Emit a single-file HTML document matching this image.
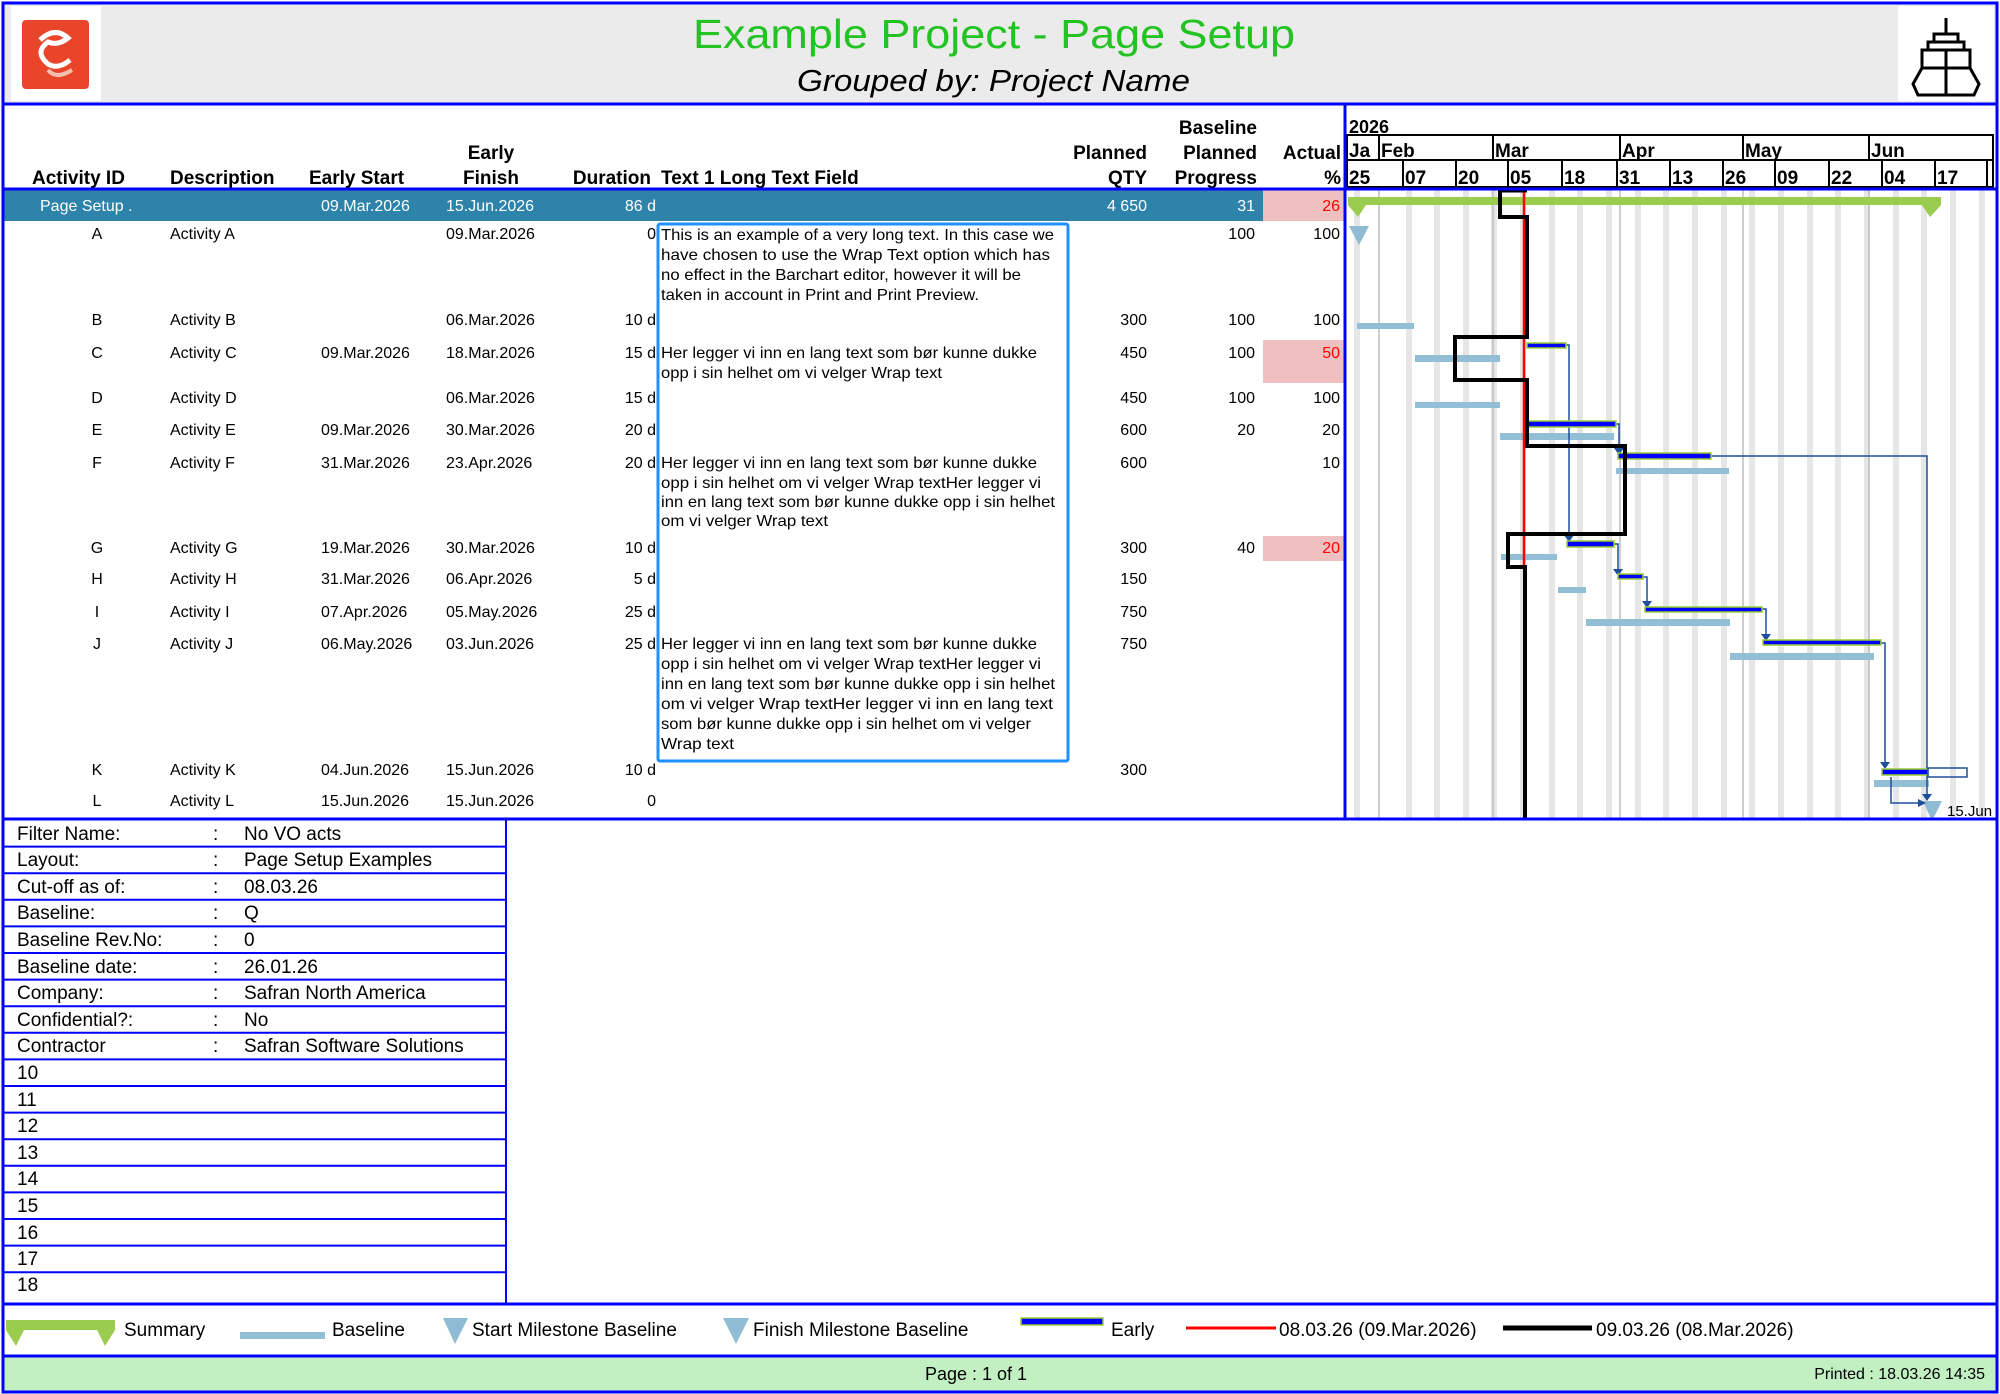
<!DOCTYPE html>
<html><head><meta charset="utf-8"><style>
html,body{margin:0;padding:0;background:#fff}
svg{display:block}
text{font-family:"Liberation Sans",Arial,sans-serif}
.h{font-weight:bold;font-size:19px}
.d{font-size:16px}
.t{font-size:16px}
.b{font-size:19px}
</style></head><body>
<svg width="2000" height="1394" viewBox="0 0 2000 1394" xmlns="http://www.w3.org/2000/svg">
<rect x="0" y="0" width="2000" height="1394" fill="#fff"/>
<rect x="4" y="4" width="1992" height="99" fill="#ebebeb"/>
<rect x="11" y="6" width="90" height="95" fill="#fff"/>
<rect x="22" y="20" width="67" height="69" rx="4" fill="#e8452a"/>
<path d="M40 40 q15 -14 28 -2 q-10 8 -20 4 q-14 10 0 22 q10 6 22 -4" fill="none" stroke="#fff" stroke-width="5"/>
<path d="M48 70 q8 10 24 0" fill="none" stroke="#f3c0b0" stroke-width="4"/>
<rect x="1898" y="6" width="96" height="95" fill="#fff"/>
<g fill="none" stroke="#000" stroke-width="3">
<line x1="1946" y1="18" x2="1946" y2="34"/>
<rect x="1934" y="34" width="24" height="8"/>
<rect x="1928" y="42" width="36" height="8"/>
<rect x="1922" y="50" width="48" height="18"/>
<path d="M1922 68 L1913 84 L1918 95 L1974 95 L1979 84 L1970 68"/>
<line x1="1946" y1="50" x2="1946" y2="95"/>
</g>
<text x="693" y="48" textLength="602" lengthAdjust="spacingAndGlyphs" font-size="41" fill="#22c322">Example Project - Page Setup</text>
<text x="797" y="91" textLength="393" lengthAdjust="spacingAndGlyphs" font-size="31" font-style="italic" fill="#000">Grouped by: Project Name</text>

<text class="h" x="32" y="184">Activity ID</text>
<text class="h" x="170" y="184">Description</text>
<text class="h" x="309" y="184">Early Start</text>
<text class="h" x="491" y="159" text-anchor="middle">Early</text>
<text class="h" x="491" y="184" text-anchor="middle">Finish</text>
<text class="h" x="651" y="184" text-anchor="end">Duration</text>
<text class="h" x="661" y="184">Text 1 Long Text Field</text>
<text class="h" x="1147" y="159" text-anchor="end">Planned</text>
<text class="h" x="1147" y="184" text-anchor="end">QTY</text>
<text class="h" x="1257" y="134" text-anchor="end">Baseline</text>
<text class="h" x="1257" y="159" text-anchor="end">Planned</text>
<text class="h" x="1257" y="184" text-anchor="end">Progress</text>
<text class="h" x="1341" y="159" text-anchor="end">Actual</text>
<text class="h" x="1341" y="184" text-anchor="end">%</text>

<text x="1349" y="133" font-size="18" font-weight="bold">2026</text>
<g fill="none" stroke="#000" stroke-width="2">
<rect x="1347" y="135" width="646" height="25"/>
<rect x="1347" y="160" width="646" height="27"/>
<line x1="1379" y1="135" x2="1379" y2="160"/><line x1="1493" y1="135" x2="1493" y2="160"/><line x1="1620" y1="135" x2="1620" y2="160"/><line x1="1743" y1="135" x2="1743" y2="160"/><line x1="1869" y1="135" x2="1869" y2="160"/>
<line x1="1403" y1="160" x2="1403" y2="187"/><line x1="1456" y1="160" x2="1456" y2="187"/><line x1="1508" y1="160" x2="1508" y2="187"/><line x1="1562" y1="160" x2="1562" y2="187"/><line x1="1617" y1="160" x2="1617" y2="187"/><line x1="1670" y1="160" x2="1670" y2="187"/><line x1="1723" y1="160" x2="1723" y2="187"/><line x1="1775" y1="160" x2="1775" y2="187"/><line x1="1829" y1="160" x2="1829" y2="187"/><line x1="1882" y1="160" x2="1882" y2="187"/><line x1="1935" y1="160" x2="1935" y2="187"/><line x1="1987" y1="160" x2="1987" y2="187"/>
</g>
<g font-size="19" font-weight="bold">
<text x="1349" y="157">Ja</text><text x="1381" y="157">Feb</text><text x="1495" y="157">Mar</text><text x="1622" y="157">Apr</text><text x="1745" y="157">May</text><text x="1871" y="157">Jun</text>
<text x="1349" y="184">25</text><text x="1405" y="184">07</text><text x="1458" y="184">20</text><text x="1510" y="184">05</text><text x="1564" y="184">18</text><text x="1619" y="184">31</text><text x="1672" y="184">13</text><text x="1725" y="184">26</text><text x="1777" y="184">09</text><text x="1831" y="184">22</text><text x="1884" y="184">04</text><text x="1937" y="184">17</text>
</g>

<g fill="#e6e6e6">
<rect x="1354" y="190" width="6" height="629"/><rect x="1406" y="190" width="6" height="629"/><rect x="1434" y="190" width="6" height="629"/><rect x="1463" y="190" width="6" height="629"/><rect x="1491" y="190" width="6" height="629"/><rect x="1520" y="190" width="6" height="629"/><rect x="1549" y="190" width="6" height="629"/><rect x="1577" y="190" width="6" height="629"/><rect x="1606" y="190" width="6" height="629"/><rect x="1635" y="190" width="6" height="629"/><rect x="1663" y="190" width="6" height="629"/><rect x="1692" y="190" width="6" height="629"/><rect x="1721" y="190" width="6" height="629"/><rect x="1749" y="190" width="6" height="629"/><rect x="1778" y="190" width="6" height="629"/><rect x="1807" y="190" width="6" height="629"/><rect x="1835" y="190" width="6" height="629"/><rect x="1864" y="190" width="6" height="629"/><rect x="1893" y="190" width="6" height="629"/><rect x="1921" y="190" width="6" height="629"/><rect x="1950" y="190" width="6" height="629"/><rect x="1979" y="190" width="6" height="629"/>
</g>
<g stroke="#bdbdbd" stroke-width="1.5">
<line x1="1379" y1="190" x2="1379" y2="819"/><line x1="1493" y1="190" x2="1493" y2="819"/><line x1="1620" y1="190" x2="1620" y2="819"/><line x1="1743" y1="190" x2="1743" y2="819"/><line x1="1869" y1="190" x2="1869" y2="819"/>
</g>

<rect x="4" y="190" width="1259" height="31" fill="#2e83ab"/>
<rect x="1263" y="190" width="82" height="31" fill="#f0c0c0"/>
<g class="d" fill="#fff">
<text x="40" y="211">Page Setup .</text>
<text x="321" y="211">09.Mar.2026</text>
<text x="446" y="211">15.Jun.2026</text>
<text x="656" y="211" text-anchor="end">86 d</text>
<text x="1147" y="211" text-anchor="end">4 650</text>
<text x="1255" y="211" text-anchor="end">31</text>
</g>
<text class="d" x="1340" y="211" text-anchor="end" fill="#f00">26</text>

<rect x="1263" y="340" width="82" height="43" fill="#f0c0c0"/>
<rect x="1263" y="536" width="82" height="25" fill="#f0c0c0"/>

<g class="d" fill="#000">
<text x="97" y="239" text-anchor="middle">A</text><text x="170" y="239">Activity A</text><text x="446" y="239">09.Mar.2026</text><text x="656" y="239" text-anchor="end">0</text><text x="1255" y="239" text-anchor="end">100</text><text x="1340" y="239" text-anchor="end">100</text>
<text x="97" y="325" text-anchor="middle">B</text><text x="170" y="325">Activity B</text><text x="446" y="325">06.Mar.2026</text><text x="656" y="325" text-anchor="end">10 d</text><text x="1147" y="325" text-anchor="end">300</text><text x="1255" y="325" text-anchor="end">100</text><text x="1340" y="325" text-anchor="end">100</text>
<text x="97" y="358" text-anchor="middle">C</text><text x="170" y="358">Activity C</text><text x="321" y="358">09.Mar.2026</text><text x="446" y="358">18.Mar.2026</text><text x="656" y="358" text-anchor="end">15 d</text><text x="1147" y="358" text-anchor="end">450</text><text x="1255" y="358" text-anchor="end">100</text><text x="1340" y="358" text-anchor="end" fill="#f00">50</text>
<text x="97" y="403" text-anchor="middle">D</text><text x="170" y="403">Activity D</text><text x="446" y="403">06.Mar.2026</text><text x="656" y="403" text-anchor="end">15 d</text><text x="1147" y="403" text-anchor="end">450</text><text x="1255" y="403" text-anchor="end">100</text><text x="1340" y="403" text-anchor="end">100</text>
<text x="97" y="435" text-anchor="middle">E</text><text x="170" y="435">Activity E</text><text x="321" y="435">09.Mar.2026</text><text x="446" y="435">30.Mar.2026</text><text x="656" y="435" text-anchor="end">20 d</text><text x="1147" y="435" text-anchor="end">600</text><text x="1255" y="435" text-anchor="end">20</text><text x="1340" y="435" text-anchor="end">20</text>
<text x="97" y="468" text-anchor="middle">F</text><text x="170" y="468">Activity F</text><text x="321" y="468">31.Mar.2026</text><text x="446" y="468">23.Apr.2026</text><text x="656" y="468" text-anchor="end">20 d</text><text x="1147" y="468" text-anchor="end">600</text><text x="1340" y="468" text-anchor="end">10</text>
<text x="97" y="553" text-anchor="middle">G</text><text x="170" y="553">Activity G</text><text x="321" y="553">19.Mar.2026</text><text x="446" y="553">30.Mar.2026</text><text x="656" y="553" text-anchor="end">10 d</text><text x="1147" y="553" text-anchor="end">300</text><text x="1255" y="553" text-anchor="end">40</text><text x="1340" y="553" text-anchor="end" fill="#f00">20</text>
<text x="97" y="584" text-anchor="middle">H</text><text x="170" y="584">Activity H</text><text x="321" y="584">31.Mar.2026</text><text x="446" y="584">06.Apr.2026</text><text x="656" y="584" text-anchor="end">5 d</text><text x="1147" y="584" text-anchor="end">150</text>
<text x="97" y="617" text-anchor="middle">I</text><text x="170" y="617">Activity I</text><text x="321" y="617">07.Apr.2026</text><text x="446" y="617">05.May.2026</text><text x="656" y="617" text-anchor="end">25 d</text><text x="1147" y="617" text-anchor="end">750</text>
<text x="97" y="649" text-anchor="middle">J</text><text x="170" y="649">Activity J</text><text x="321" y="649">06.May.2026</text><text x="446" y="649">03.Jun.2026</text><text x="656" y="649" text-anchor="end">25 d</text><text x="1147" y="649" text-anchor="end">750</text>
<text x="97" y="775" text-anchor="middle">K</text><text x="170" y="775">Activity K</text><text x="321" y="775">04.Jun.2026</text><text x="446" y="775">15.Jun.2026</text><text x="656" y="775" text-anchor="end">10 d</text><text x="1147" y="775" text-anchor="end">300</text>
<text x="97" y="806" text-anchor="middle">L</text><text x="170" y="806">Activity L</text><text x="321" y="806">15.Jun.2026</text><text x="446" y="806">15.Jun.2026</text><text x="656" y="806" text-anchor="end">0</text>
</g>

<g class="t" fill="#000">
<text x="661" y="240" textLength="393" lengthAdjust="spacingAndGlyphs">This is an example of a very long text. In this case we</text>
<text x="661" y="260" textLength="389" lengthAdjust="spacingAndGlyphs">have chosen to use the Wrap Text option which has</text>
<text x="661" y="280" textLength="360" lengthAdjust="spacingAndGlyphs">no effect in the Barchart editor, however it will be</text>
<text x="661" y="300" textLength="318" lengthAdjust="spacingAndGlyphs">taken in account in Print and Print Preview.</text>
<text x="661" y="358" textLength="376" lengthAdjust="spacingAndGlyphs">Her legger vi inn en lang text som bør kunne dukke</text>
<text x="661" y="378" textLength="281" lengthAdjust="spacingAndGlyphs">opp i sin helhet om vi velger Wrap text</text>
<text x="661" y="468" textLength="376" lengthAdjust="spacingAndGlyphs">Her legger vi inn en lang text som bør kunne dukke</text>
<text x="661" y="488" textLength="380" lengthAdjust="spacingAndGlyphs">opp i sin helhet om vi velger Wrap textHer legger vi</text>
<text x="661" y="507" textLength="394" lengthAdjust="spacingAndGlyphs">inn en lang text som bør kunne dukke opp i sin helhet</text>
<text x="661" y="526" textLength="167" lengthAdjust="spacingAndGlyphs">om vi velger Wrap text</text>
<text x="661" y="649" textLength="376" lengthAdjust="spacingAndGlyphs">Her legger vi inn en lang text som bør kunne dukke</text>
<text x="661" y="669" textLength="380" lengthAdjust="spacingAndGlyphs">opp i sin helhet om vi velger Wrap textHer legger vi</text>
<text x="661" y="689" textLength="394" lengthAdjust="spacingAndGlyphs">inn en lang text som bør kunne dukke opp i sin helhet</text>
<text x="661" y="709" textLength="392" lengthAdjust="spacingAndGlyphs">om vi velger Wrap textHer legger vi inn en lang text</text>
<text x="661" y="729" textLength="370" lengthAdjust="spacingAndGlyphs">som bør kunne dukke opp i sin helhet om vi velger</text>
<text x="661" y="749" textLength="73" lengthAdjust="spacingAndGlyphs">Wrap text</text>
</g>
<rect x="658" y="224" width="410" height="537" fill="none" stroke="#1e90ff" stroke-width="3" rx="2"/>

<path d="M1348 197 L1941 197 L1941 205 L1930 217 L1922 205 L1366 205 L1358 217 L1348 205 Z" fill="#9acd4f"/>
<path d="M1349 226 L1369 226 L1359 245 Z" fill="#8fbcd4"/>
<g fill="#93bfd6">
<rect x="1357" y="323" width="57" height="6"/>
<rect x="1415" y="355" width="85" height="7"/>
<rect x="1415" y="402" width="85" height="6"/>
<rect x="1500" y="433" width="114" height="7"/>
<rect x="1616" y="468" width="113" height="6"/>
<rect x="1501" y="554" width="56" height="6"/>
<rect x="1558" y="587" width="28" height="6"/>
<rect x="1586" y="619" width="144" height="7"/>
<rect x="1730" y="653" width="144" height="7"/>
<rect x="1874" y="780" width="55" height="7"/>
</g>
<path d="M1923 801 L1942 801 L1932 821 Z" fill="#8fbcd4"/>
<text x="1947" y="816" font-size="15">15.Jun</text>
<g fill="none" stroke="#1f4e9a" stroke-width="1.5">
<polyline points="1566,345 1569,345 1569,536"/>
<polyline points="1616,424 1619,424 1619,450"/>
<polyline points="1711,456 1927,456 1927,796"/>
<polyline points="1614,544 1618,544 1618,571"/>
<polyline points="1643,577 1647,577 1647,604"/>
<polyline points="1762,609 1766,609 1766,637"/>
<polyline points="1881,643 1885,643 1885,765"/>
<polyline points="1891,777 1891,803 1923,803"/>
</g>
<g fill="#1f4e9a">
<path d="M1564 535 L1574 535 L1569 542 Z"/>
<path d="M1614 448 L1624 448 L1619 455 Z"/>
<path d="M1613 569 L1623 569 L1618 576 Z"/>
<path d="M1642 601 L1652 601 L1647 608 Z"/>
<path d="M1761 634 L1771 634 L1766 641 Z"/>
<path d="M1880 762 L1890 762 L1885 769 Z"/>
<path d="M1922 794 L1932 794 L1927 801 Z"/>
<path d="M1918 799 L1926 803 L1918 807 Z"/>
</g>
<g fill="#0000ff" stroke="#9acd32" stroke-width="1.5">
<rect x="1527" y="343" width="39" height="5"/>
<rect x="1527" y="421" width="89" height="6"/>
<rect x="1618" y="453" width="93" height="6"/>
<rect x="1567" y="541" width="47" height="6"/>
<rect x="1618" y="574" width="25" height="5"/>
<rect x="1645" y="607" width="117" height="5"/>
<rect x="1763" y="640" width="118" height="5"/>
<rect x="1882" y="769" width="46" height="6"/>
</g>
<rect x="1928" y="768" width="39" height="9" fill="none" stroke="#1f4e9a" stroke-width="1.5"/>
<line x1="1524" y1="190" x2="1524" y2="567" stroke="#f00" stroke-width="2.5"/>
<polyline points="1500,190 1500,217 1527,217 1527,337 1455,337 1455,380 1527,380 1527,446 1625,446 1625,534 1508,534 1508,567 1525,567 1525,819" fill="none" stroke="#000" stroke-width="4"/>
<line x1="1500" y1="191" x2="1527" y2="191" stroke="#000" stroke-width="3"/>

<g stroke="#0000ff" stroke-width="2">
<line x1="3" y1="846.6" x2="506" y2="846.6"/><line x1="3" y1="873.2" x2="506" y2="873.2"/><line x1="3" y1="899.8" x2="506" y2="899.8"/><line x1="3" y1="926.4" x2="506" y2="926.4"/><line x1="3" y1="953" x2="506" y2="953"/><line x1="3" y1="979.6" x2="506" y2="979.6"/><line x1="3" y1="1006.2" x2="506" y2="1006.2"/><line x1="3" y1="1032.8" x2="506" y2="1032.8"/><line x1="3" y1="1059.4" x2="506" y2="1059.4"/><line x1="3" y1="1086" x2="506" y2="1086"/><line x1="3" y1="1112.6" x2="506" y2="1112.6"/><line x1="3" y1="1139.2" x2="506" y2="1139.2"/><line x1="3" y1="1165.8" x2="506" y2="1165.8"/><line x1="3" y1="1192.4" x2="506" y2="1192.4"/><line x1="3" y1="1219" x2="506" y2="1219"/><line x1="3" y1="1245.6" x2="506" y2="1245.6"/><line x1="3" y1="1272.2" x2="506" y2="1272.2"/>
<line x1="506" y1="820" x2="506" y2="1303"/>
</g>
<g class="b" fill="#000">
<text x="17" y="840">Filter Name:</text><text x="213" y="840">:</text><text x="244" y="840">No VO acts</text>
<text x="17" y="866">Layout:</text><text x="213" y="866">:</text><text x="244" y="866">Page Setup Examples</text>
<text x="17" y="893">Cut-off as of:</text><text x="213" y="893">:</text><text x="244" y="893">08.03.26</text>
<text x="17" y="919">Baseline:</text><text x="213" y="919">:</text><text x="244" y="919">Q</text>
<text x="17" y="946">Baseline Rev.No:</text><text x="213" y="946">:</text><text x="244" y="946">0</text>
<text x="17" y="973">Baseline date:</text><text x="213" y="973">:</text><text x="244" y="973">26.01.26</text>
<text x="17" y="999">Company:</text><text x="213" y="999">:</text><text x="244" y="999">Safran North America</text>
<text x="17" y="1026">Confidential?:</text><text x="213" y="1026">:</text><text x="244" y="1026">No</text>
<text x="17" y="1052">Contractor</text><text x="213" y="1052">:</text><text x="244" y="1052">Safran Software Solutions</text>
<text x="17" y="1079">10</text><text x="17" y="1106">11</text><text x="17" y="1132">12</text><text x="17" y="1159">13</text><text x="17" y="1185">14</text><text x="17" y="1212">15</text><text x="17" y="1239">16</text><text x="17" y="1265">17</text><text x="17" y="1291">18</text>
</g>

<path d="M6 1320 L115 1320 L115 1330 L105 1346 L97 1330 L24 1330 L16 1346 L6 1330 Z" fill="#9acd4f"/>
<text class="b" x="124" y="1336">Summary</text>
<rect x="240" y="1332" width="85" height="7" fill="#93bfd6"/>
<text class="b" x="332" y="1336">Baseline</text>
<path d="M443 1318 L468 1318 L455 1344 Z" fill="#8fbcd4"/>
<text class="b" x="472" y="1336">Start Milestone Baseline</text>
<path d="M723 1318 L749 1318 L736 1344 Z" fill="#8fbcd4"/>
<text class="b" x="753" y="1336">Finish Milestone Baseline</text>
<rect x="1021" y="1318" width="82" height="7" fill="#0000ff" stroke="#9acd32" stroke-width="1.5"/>
<text class="b" x="1111" y="1336">Early</text>
<line x1="1186" y1="1328" x2="1276" y2="1328" stroke="#f00" stroke-width="3"/>
<text class="b" x="1279" y="1336">08.03.26 (09.Mar.2026)</text>
<line x1="1503" y1="1328" x2="1592" y2="1328" stroke="#000" stroke-width="5"/>
<text class="b" x="1596" y="1336">09.03.26 (08.Mar.2026)</text>

<rect x="3" y="1357" width="1993" height="34" fill="#c3f0c3"/>
<text x="976" y="1380" text-anchor="middle" font-size="18">Page : 1 of 1</text>
<text x="1985" y="1379" text-anchor="end" font-size="16">Printed : 18.03.26 14:35</text>

<g stroke="#0000ff" fill="none">
<rect x="3" y="3" width="1994" height="1389" stroke-width="3"/>
<line x1="3" y1="104" x2="1997" y2="104" stroke-width="3"/>
<line x1="3" y1="189" x2="1997" y2="189" stroke-width="3"/>
<line x1="1345" y1="104" x2="1345" y2="819" stroke-width="3"/>
<line x1="3" y1="819" x2="1997" y2="819" stroke-width="3"/>
<line x1="3" y1="1304" x2="1997" y2="1304" stroke-width="3"/>
<line x1="3" y1="1356" x2="1997" y2="1356" stroke-width="3"/>
</g>
</svg>
</body></html>
